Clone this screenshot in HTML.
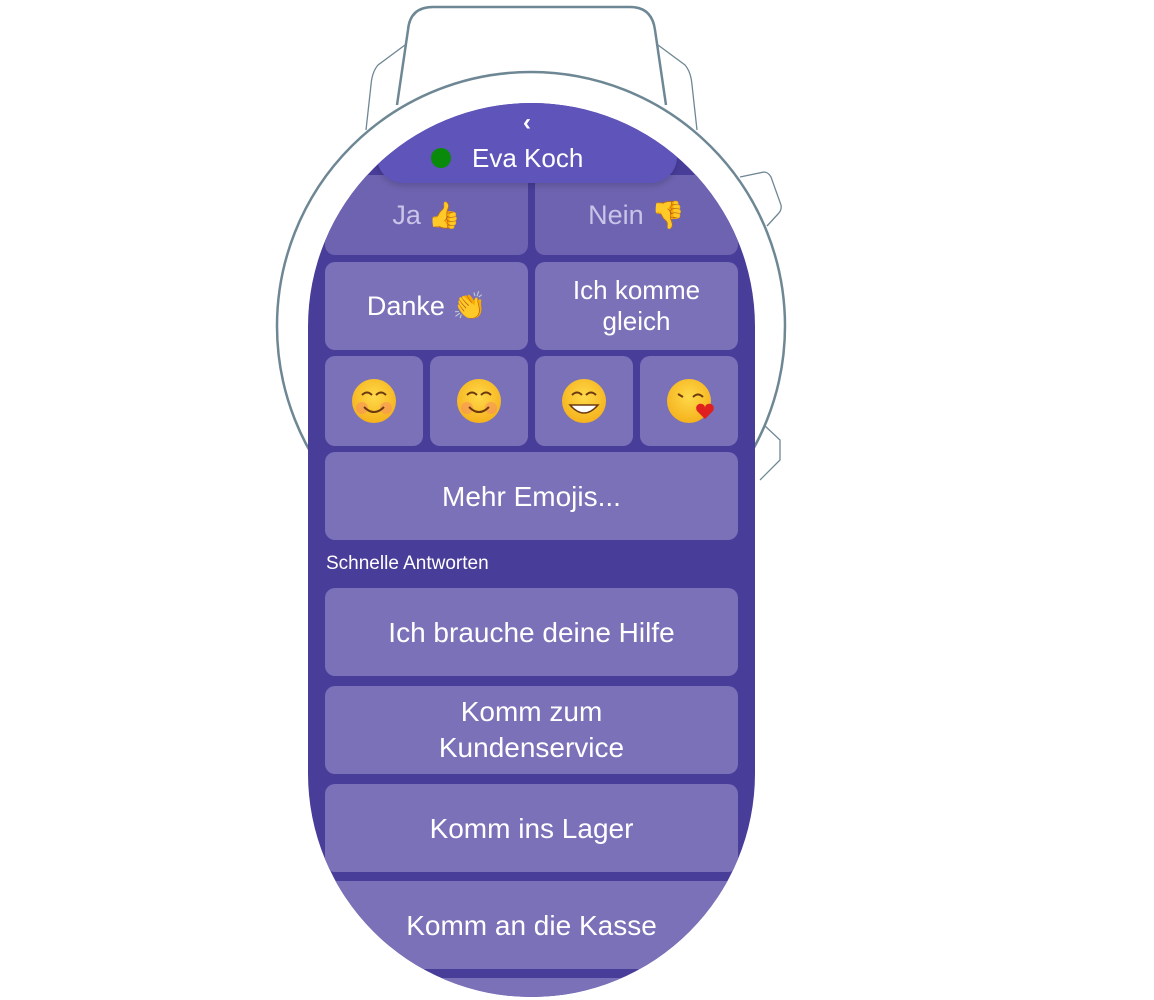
<!DOCTYPE html>
<html><head><meta charset="utf-8"><style>
body{margin:0;width:1154px;height:1000px;background:#fff;position:relative;overflow:hidden;font-family:"Liberation Sans","DejaVu Sans",sans-serif}
#scr{position:absolute;left:308px;top:103px;width:447px;height:894px;border-radius:224px;overflow:hidden;background:#483d99}
.b{position:absolute;background:#7a71b8;border-radius:10px;color:#fff;display:flex;align-items:center;justify-content:center;text-align:center;font-size:27px;line-height:31px}
.e{position:absolute}
</style></head><body>
<svg width="1154" height="1000" style="position:absolute;left:0;top:0">
<g fill="none" stroke="#6e8794" stroke-width="2.5">
<path d="M397,105 L408,30 Q410,7 433,7 L630,7 Q652,7 655,30 L666,105"/>
<circle cx="531" cy="326" r="254"/>
</g>
<g fill="none" stroke="#6e8794" stroke-width="1.3">
<path d="M405,45 L378,65 Q372,72 371,85 L366,130"/>
<path d="M658,45 L685,65 Q691,72 692,85 L697,130"/>
<path d="M740,177 L764,172 Q768,172 771,177 L781,205 Q782,210 778,214 L767,226"/>
<path d="M764,425 L780,440 L780,460 L760,480"/>
</g>
</svg>
<div id="scr">
<div class="b" style="left:17px;top:72px;width:203px;height:80px;background:#6d63b0;color:#c9c4e8">Ja <span style="font-size:26px">&nbsp;👍</span></div>
<div class="b" style="left:227px;top:72px;width:203px;height:80px;background:#6d63b0;color:#c9c4e8">Nein <span>&nbsp;👎</span></div>
<div class="b" style="left:17px;top:159px;width:203px;height:88px">Danke&nbsp;👏</div>
<div class="b" style="left:227px;top:159px;width:203px;height:88px;font-size:26px">Ich komme<br>gleich</div>
<div class="b" style="left:17px;top:253px;width:98px;height:90px"></div>
<div class="b" style="left:122px;top:253px;width:98px;height:90px"></div>
<div class="b" style="left:227px;top:253px;width:98px;height:90px"></div>
<div class="b" style="left:332px;top:253px;width:98px;height:90px"></div>
<svg class="e" style="left:0;top:0" width="447" height="400">
<defs><radialGradient id="y" cx="50%" cy="40%" r="60%"><stop offset="0" stop-color="#ffd94a"/><stop offset="1" stop-color="#f5b21c"/></radialGradient></defs>
<g id="f1"><circle cx="66" cy="298" r="22" fill="url(#y)"/><circle cx="54" cy="305" r="6" fill="#f7915e" opacity=".6"/><circle cx="78" cy="305" r="6" fill="#f7915e" opacity=".6"/><path d="M54,292 q5,-5 10,0 M68,292 q5,-5 10,0 M56,304 q10,10 20,0" stroke="#6b3a10" stroke-width="2" fill="none"/></g>
<use href="#f1" x="105"/>
<circle cx="276" cy="298" r="22" fill="url(#y)"/><path d="M264,292 q5,-5 10,0 M278,292 q5,-5 10,0" stroke="#6b3a10" stroke-width="2" fill="none"/><path d="M262,302 q14,16 28,0 z" fill="#fff" stroke="#6b3a10" stroke-width="1.5"/>
<circle cx="381" cy="298" r="22" fill="url(#y)"/><path d="M370,291 l5,3 M385,294 q5,-5 10,0" stroke="#6b3a10" stroke-width="2" fill="none"/><path d="M389,308 c-4,-8 8,-10 8,-3 c0,-7 12,-5 8,3 l-8,8 z" fill="#e0201e"/>
</svg>
<div class="b" style="left:17px;top:349px;width:413px;height:88px;font-size:28px">Mehr Emojis...</div>
<div style="position:absolute;left:18px;top:450px;color:#fff;font-size:19px">Schnelle Antworten</div>
<div class="b" style="left:17px;top:485px;width:413px;height:88px;font-size:28px">Ich brauche deine Hilfe</div>
<div class="b" style="left:17px;top:583px;width:413px;height:88px;font-size:28px;line-height:36px">Komm zum<br>Kundenservice</div>
<div class="b" style="left:17px;top:681px;width:413px;height:88px;font-size:28px">Komm ins Lager</div>
<div class="b" style="left:0px;top:778px;width:447px;height:88px;border-radius:0;font-size:28px">Komm an die Kasse</div>
<div class="b" style="left:0px;top:875px;width:447px;height:30px;border-radius:0"></div>
<div style="position:absolute;left:69px;top:0;width:300px;height:80px;background:#5e54b9;border-radius:0 0 26px 26px;box-shadow:0 3px 6px rgba(0,0,0,.15)">
<div style="position:absolute;left:0;width:100%;top:6px;text-align:center;color:#fff;font-size:24px;font-weight:bold">‹</div>
<div style="position:absolute;left:54px;top:45px;width:20px;height:20px;border-radius:50%;background:#0a8a0a"></div>
<div style="position:absolute;left:95px;top:40px;color:#fff;font-size:26px">Eva Koch</div>
</div>
</div>
</body></html>
